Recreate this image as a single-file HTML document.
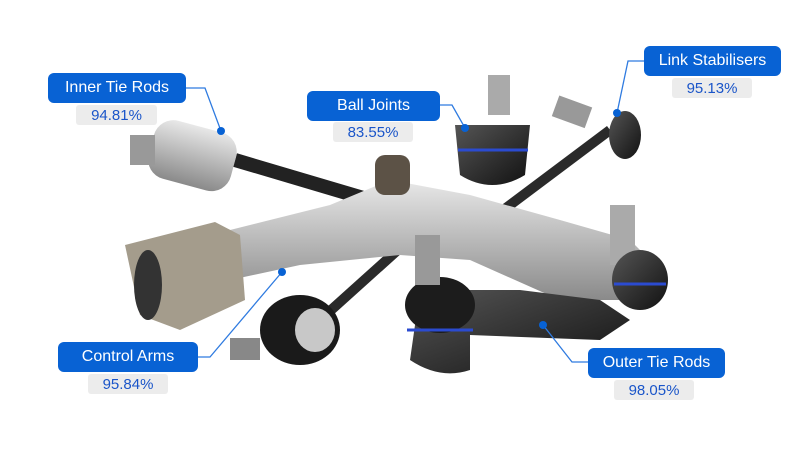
<!DOCTYPE html>
<html><head><meta charset="utf-8"><style>
html,body{margin:0;padding:0;background:#fff;}
body{width:800px;height:450px;position:relative;overflow:hidden;font-family:"Liberation Sans",sans-serif;}
.lab{position:absolute;background:#0862d4;color:#fff;font-size:16px;border-radius:6px;display:flex;align-items:center;justify-content:center;height:30px;}
.pct{position:absolute;background:#ececec;color:#1a55c9;font-size:15px;display:flex;align-items:center;justify-content:center;height:20px;border-radius:3px;}
svg{position:absolute;left:0;top:0;}
</style></head><body>
<svg width="800" height="450">
<defs>
<linearGradient id="al" x1="0" y1="0" x2="0" y2="1"><stop offset="0" stop-color="#e8e8e8"/><stop offset=".5" stop-color="#b9b9b9"/><stop offset="1" stop-color="#8a8a8a"/></linearGradient>
<linearGradient id="bk" x1="0" y1="0" x2="1" y2="1"><stop offset="0" stop-color="#555"/><stop offset="1" stop-color="#111"/></linearGradient>
</defs>
<!-- rods -->
<line x1="235" y1="160" x2="370" y2="200" stroke="#222" stroke-width="14"/>
<line x1="450" y1="250" x2="610" y2="130" stroke="#2a2a2a" stroke-width="10"/>
<line x1="320" y1="320" x2="420" y2="230" stroke="#2a2a2a" stroke-width="10"/>
<!-- inner tie rod end -->
<rect x="150" y="125" width="85" height="60" rx="20" fill="url(#al)" transform="rotate(15 190 155)"/>
<rect x="130" y="135" width="25" height="30" fill="#999"/>
<!-- control arm -->
<path d="M140 245 L230 230 L330 205 L390 180 L470 195 L560 220 L630 240 L660 270 L640 300 L560 300 L470 260 L400 255 L300 265 L230 280 Z" fill="url(#al)"/>
<path d="M125 245 L215 222 L240 235 L245 300 L180 330 L140 315 Z" fill="#a49c8c"/>
<ellipse cx="148" cy="285" rx="14" ry="35" fill="#333"/>
<rect x="375" y="155" width="35" height="40" rx="10" fill="#5c5246"/>
<!-- ball joint -->
<rect x="488" y="75" width="22" height="40" fill="#aaa"/>
<path d="M455 125 L530 125 L525 175 Q492 195 460 175 Z" fill="url(#bk)"/>
<line x1="458" y1="150" x2="528" y2="150" stroke="#2b4bd0" stroke-width="3"/>
<!-- link stab end -->
<rect x="555" y="100" width="35" height="22" fill="#999" transform="rotate(20 570 110)"/>
<ellipse cx="625" cy="135" rx="16" ry="24" fill="url(#bk)"/>
<!-- outer right joint -->
<rect x="610" y="205" width="25" height="60" fill="#aaa"/>
<ellipse cx="640" cy="280" rx="28" ry="30" fill="url(#bk)"/>
<line x1="614" y1="284" x2="666" y2="284" stroke="#2b4bd0" stroke-width="3"/>
<!-- outer tie rod -->
<path d="M420 290 L520 290 L600 300 L630 320 L600 340 L470 335 L470 370 Q440 380 410 360 Z" fill="url(#bk)"/>
<ellipse cx="440" cy="305" rx="35" ry="28" fill="#1c1c1c"/>
<line x1="407" y1="330" x2="473" y2="330" stroke="#2b4bd0" stroke-width="3"/>
<rect x="415" y="235" width="25" height="50" fill="#999"/>
<!-- link stab lower -->
<ellipse cx="300" cy="330" rx="40" ry="35" fill="#1a1a1a"/>
<ellipse cx="315" cy="330" rx="20" ry="22" fill="#c8c8c8"/>
<rect x="230" y="338" width="30" height="22" fill="#888"/>
<!-- connectors -->
<g stroke="#2f7be0" stroke-width="1.3" fill="none">
<polyline points="186,88 205,88 221,131"/>
<polyline points="440,105 452,105 465,128"/>
<polyline points="644,61 628,61 617,113"/>
<polyline points="198,357 210,357 282,272"/>
<polyline points="588,362 572,362 543,325"/>
</g>
<g fill="#0862d4">
<circle cx="221" cy="131" r="4"/><circle cx="465" cy="128" r="4"/><circle cx="617" cy="113" r="4"/><circle cx="282" cy="272" r="4"/><circle cx="543" cy="325" r="4"/>
</g>
</svg>
<div class="lab" style="left:48px;top:73px;width:138px">Inner Tie Rods</div>
<div class="pct" style="left:76px;top:105px;width:81px">94.81%</div>
<div class="lab" style="left:307px;top:91px;width:133px">Ball Joints</div>
<div class="pct" style="left:333px;top:122px;width:80px">83.55%</div>
<div class="lab" style="left:644px;top:46px;width:137px">Link Stabilisers</div>
<div class="pct" style="left:672px;top:78px;width:80px">95.13%</div>
<div class="lab" style="left:58px;top:342px;width:140px">Control Arms</div>
<div class="pct" style="left:88px;top:374px;width:80px">95.84%</div>
<div class="lab" style="left:588px;top:348px;width:137px">Outer Tie Rods</div>
<div class="pct" style="left:614px;top:380px;width:80px">98.05%</div>
</body></html>
